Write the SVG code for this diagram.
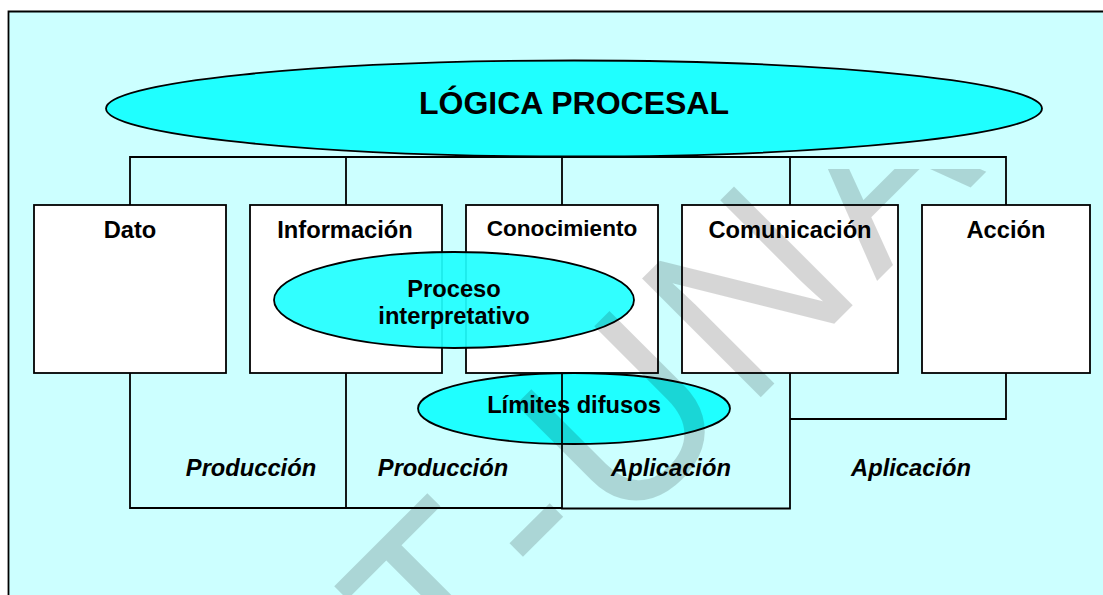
<svg xmlns="http://www.w3.org/2000/svg" width="1103" height="595" viewBox="0 0 1103 595">
<style>
text{font-family:"Liberation Sans",Arial,sans-serif;font-weight:bold;fill:#000;text-anchor:middle}
.box{fill:#fff;stroke:#000;stroke-width:1.8}
.ell{fill:#1fffff;stroke:#000;stroke-width:1.8}
.con{fill:none;stroke:#000;stroke-width:1.8}
.lb{font-size:23.7px}
.it{font-size:23.7px;font-style:italic}
</style>
<defs><clipPath id="wm"><rect x="0" y="169" width="1103" height="426"/></clipPath></defs>
<path d="M1103 12H8.500V595H1103Z" fill="#ccffff" stroke="none"/>
<path d="M1103 11.500H8.500V595" fill="none" stroke="#000" stroke-width="1.800"/>
<g id="connectors" class="con">
<path class="con" d="M130 205V157H1006V205M346 157V205M562 157V205M790 157V205"/>
<path class="con" d="M130 373V508H346V373M346 508H562M562 373V508.500H790V373M790 419H1006V373"/>
</g>
<g id="node-dato"><rect class="box" x="34" y="205" width="192" height="168"/><text class="lb" x="130" y="238">Dato</text></g>
<g id="node-informacion"><rect class="box" x="250" y="205" width="192" height="168"/><text class="lb" x="345" y="238">Información</text></g>
<g id="node-conocimiento"><rect class="box" x="466" y="205" width="192" height="168"/><text x="562" y="236" font-size="22.600">Conocimiento</text></g>
<g id="node-logica"><ellipse class="ell" cx="574" cy="108.500" rx="468" ry="48"/><text x="574" y="114" font-size="32">LÓGICA PROCESAL</text></g>
<g id="node-comunicacion"><rect class="box" x="682" y="205" width="216" height="168"/><text class="lb" x="790" y="238">Comunicación</text></g>
<g id="node-accion"><rect class="box" x="922" y="205" width="168" height="168"/><text class="lb" x="1006" y="238">Acción</text></g>
<g id="node-proceso"><ellipse class="ell" cx="454" cy="300" rx="180" ry="48" fill-opacity=".92"/><text class="lb" x="454" y="297">Proceso</text><text class="lb" x="454" y="324">interpretativo</text></g>
<g id="node-limites"><ellipse class="ell" cx="574" cy="408.500" rx="156" ry="35.500"/><text class="lb" x="574" y="413">Límites difusos</text></g>
<path class="con" d="M562 373V444"/>
<g id="labels"><text class="it" x="251" y="476">Producción</text><text class="it" x="443" y="476">Producción</text><text class="it" x="671" y="476">Aplicación</text><text class="it" x="911" y="476">Aplicación</text></g>
<g clip-path="url(#wm)"><text transform="translate(579 579) rotate(-45) scale(1 1.047)" font-size="233" x="-183.500 0 -34.400 0 61 238 421" y="0" style="font-weight:normal;text-anchor:start;fill:#000;fill-opacity:.16">T - UNA</text></g>
</svg>
